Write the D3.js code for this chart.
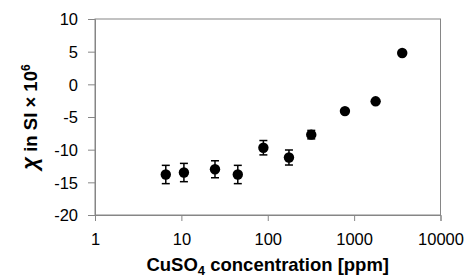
<!DOCTYPE html>
<html>
<head>
<meta charset="utf-8">
<script src="https://cdn.jsdelivr.net/npm/d3@7.9.0/dist/d3.min.js"></script>
<style>
  body { margin: 0; background: #fff; }
  svg text { font-family: "Liberation Sans", Arial, sans-serif; fill: #000; }
</style>
</head>
<body>
<svg id="chart" width="470" height="277"></svg>
<script>
// concentration (ppm), susceptibility, error
const conc = [6.6, 10.7, 24.5, 45, 89, 176, 319, 783, 1774, 3604];
const chi = [-13.8, -13.5, -13.0, -13.8, -9.7, -11.2, -7.7, -4.1, -2.6, 4.8];
const err = [1.4, 1.4, 1.3, 1.4, 1.1, 1.15, 0.65, 0, 0, 0];
const xTicks = [1, 10, 100, 1000, 10000];
const yTicks = [-20, -15, -10, -5, 0, 5, 10];

const svg = d3.select('#chart');
const m = { left: 95, right: 29.5, top: 19, bottom: 62 };
const W = 470, H = 277;

const x = d3.scaleLog().domain([1, 10000]).range([m.left, W - m.right]);
const y = d3.scaleLinear().domain([-20, 10]).range([H - m.bottom, m.top]);

const axisColor = '#868686';

// frame
svg.append('rect')
    .attr('x', x(1)).attr('y', y(10))
    .attr('width', x(10000) - x(1)).attr('height', y(-20) - y(10))
    .attr('fill', 'none').attr('stroke', axisColor).attr('stroke-width', 1);

const yAxis = svg.append('g')
    .attr('transform', `translate(${x(1)},0)`)
    .call(d3.axisLeft(y).tickValues(yTicks).tickSize(7).tickPadding(10).tickFormat((d) => String(d)));
const xAxis = svg.append('g')
    .attr('transform', `translate(0,${y(-20)})`)
    .call(d3.axisBottom(x).tickValues(xTicks).tickSize(6).tickPadding(12).tickFormat((d) => String(d)));

[xAxis, yAxis].forEach((g) => {
    g.selectAll('path, line').attr('stroke', axisColor);
    g.selectAll('text').attr('font-size', 16.5).attr('fill', '#000')
        .style('font-family', '"Liberation Sans", Arial, sans-serif');
});
yAxis.selectAll('text').attr('dy', '0.36em');

// error bars
const pts = conc.map((c, i) => ({ c, v: chi[i], e: err[i] }));
const eb = svg.append('g').attr('stroke', '#000').attr('stroke-width', 1.5);
pts.filter((d) => d.e > 0).forEach((d) => {
    const cx = x(d.c);
    eb.append('line').attr('x1', cx).attr('x2', cx).attr('y1', y(d.v - d.e)).attr('y2', y(d.v + d.e));
    [d.v - d.e, d.v + d.e].forEach((yy) => {
        eb.append('line').attr('x1', cx - 4).attr('x2', cx + 4).attr('y1', y(yy)).attr('y2', y(yy));
    });
});

svg.append('g').selectAll('circle').data(pts).join('circle')
    .attr('cx', (d) => x(d.c)).attr('cy', (d) => y(d.v))
    .attr('r', 5.2).attr('fill', '#000');

// axis titles
svg.append('text')
    .attr('x', (x(1) + x(10000)) / 2).attr('y', 271)
    .attr('text-anchor', 'middle').attr('font-size', 18.5).attr('font-weight', 'bold')
    .html('CuSO<tspan dy="4" font-size="13">4</tspan><tspan dy="-4"> concentration [ppm]</tspan>');

svg.append('text')
    .attr('transform', `translate(37,${(y(10) + y(-20)) / 2}) rotate(-90)`)
    .attr('text-anchor', 'middle').attr('font-size', 18.5).attr('font-weight', 'bold')
    .html('<tspan font-size="22" font-style="italic">χ</tspan> in SI × 10<tspan dy="-7" font-size="12">6</tspan>');
</script>
</body>
</html>
